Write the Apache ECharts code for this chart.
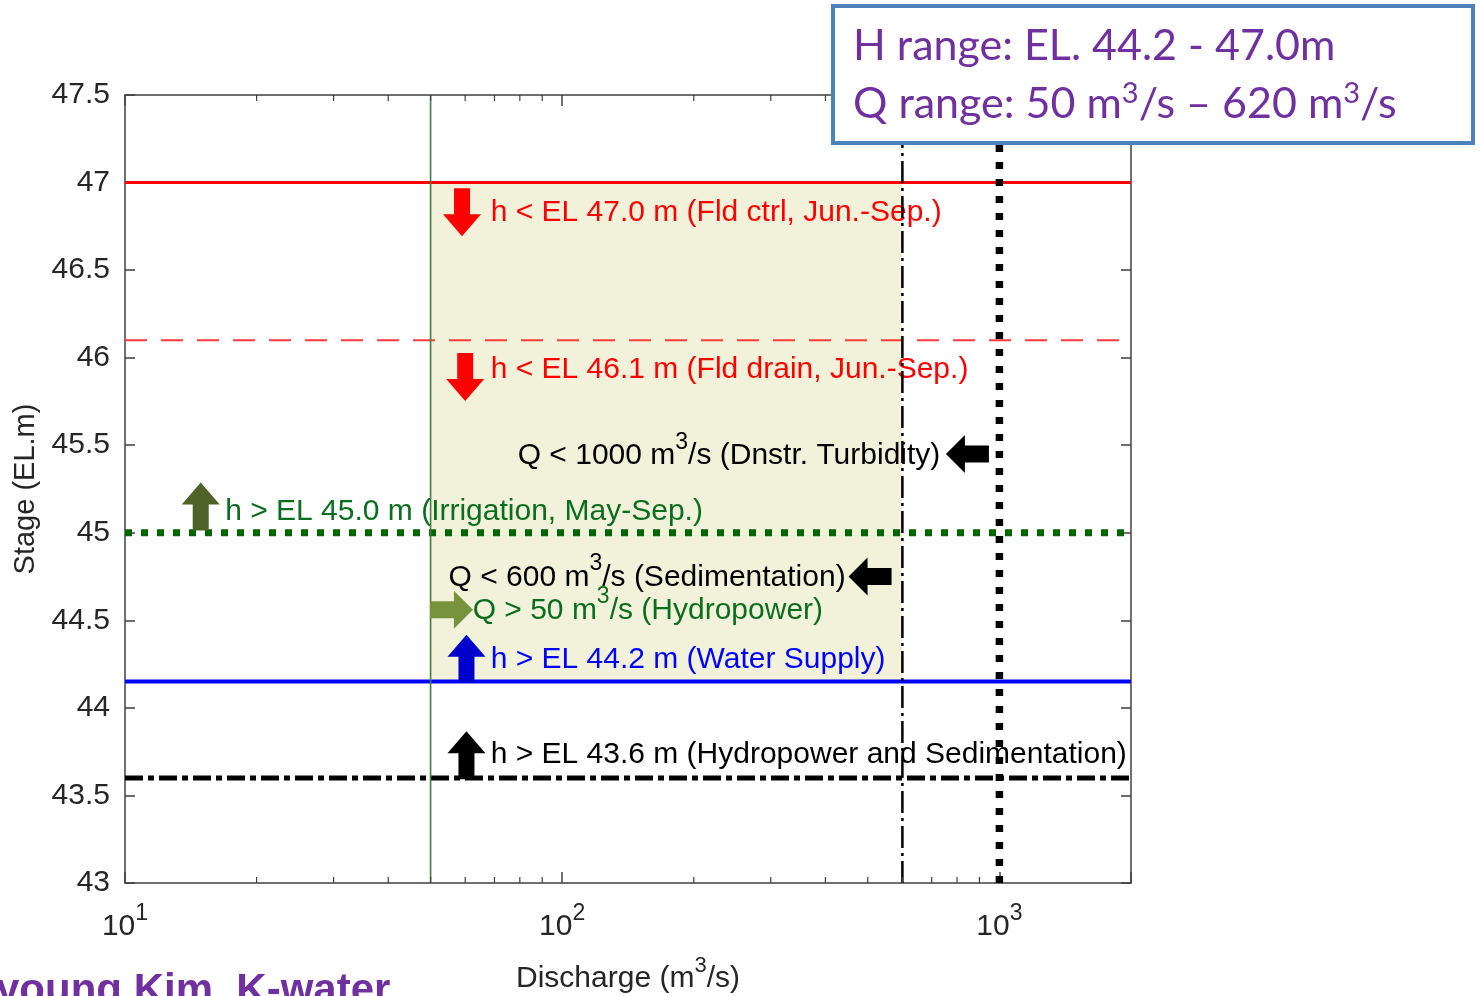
<!DOCTYPE html>
<html><head><meta charset="utf-8">
<script src="https://cdn.jsdelivr.net/npm/echarts@6/dist/echarts.min.js"></script>
<style>html,body{margin:0;padding:0;background:#fff}#c{width:1480px;height:996px}</style>
</head><body><div id="c"></div>
<script>
// ---------------- DATA ----------------
const xMin = 10, xMax = 2000;
const yMin = 43, yMax = 47.5, yStep = 0.5;
const hLevels = [47.0, 46.1, 45.0, 44.15, 43.6];      // horizontal constraint lines
const qLevels = [50, 600, 1000];                      // vertical constraint lines
const shadeQ = [50, 600];
const shadeH = [44.15, 47.0];
const minorTickQ = [20, 30, 40, 50, 60, 70, 80, 90, 200, 300, 400, 500, 600, 700, 800, 900];
const arrowQ = [59, 60, 845, 14.9, 506, 55.8, 60.4, 60.4];
const arrowH = [46.83, 45.89, 45.45, 45.15, 44.75, 44.56, 44.28, 43.73];
const arrowDir = ['down', 'down', 'left', 'up', 'left', 'right', 'up', 'up'];
const labelQ = [68.6, 68.6, 79.1, 16.95, 54.95, 62.4, 68.6, 68.6];
const labelH = [46.826, 45.929, 45.44, 45.123, 44.746, 44.557, 44.277, 43.734];
const labelText = [
  'h < EL 47.0 m (Fld ctrl, Jun.-Sep.)',
  'h < EL 46.1 m (Fld drain, Jun.-Sep.)',
  'Q < 1000 m{s|3}/s (Dnstr. Turbidity)',
  'h > EL 45.0 m (Irrigation, May-Sep.)',
  'Q < 600 m{s|3}/s (Sedimentation)',
  'Q > 50 m{s|3}/s (Hydropower)',
  'h > EL 44.2 m (Water Supply)',
  'h > EL 43.6 m (Hydropower and Sedimentation)'
];
const boxLines = ['H range: EL. 44.2 - 47.0m', 'Q range: 50 m{s|3}/s \u2013 620 m{s|3}/s'];
const footText = 'young Kim, K-water';

// ---------------- STYLES ----------------
const FONT = '"Liberation Sans", Arial, sans-serif';
const hStyles = [
  {color: '#ff0000', width: 3, type: 'solid'},
  {color: '#ff3b3b', width: 2, type: [22, 14]},
  {color: '#006400', width: 7, type: [7, 9]},
  {color: '#0000ff', width: 4, type: 'solid'},
  {color: '#000000', width: 5, type: [18, 5, 6, 5]}
];
const qStyles = [
  {color: '#3f7f3f', width: 1.6, type: 'solid'},
  {color: '#000000', width: 2.5, type: [22, 5, 3, 5]},
  {color: '#000000', width: 7.5, type: [7, 10]}
];
const arrowColors = ['#ff0000', '#ff0000', '#000000', '#4f6228', '#000000', '#77933c', '#0000cc', '#000000'];
const labelColors = ['#ff0000', '#ff0000', '#000000', '#0a6e1e', '#000000', '#0a6e1e', '#0000ff', '#000000'];

// ---------------- CHART ----------------
const chart = echarts.init(document.getElementById('c'), null, {renderer: 'canvas'});

const series = [];
// shaded feasible region
series.push({
  type: 'custom', coordinateSystem: 'cartesian2d', silent: true, z: 1,
  data: [[shadeQ[0], shadeH[0], shadeQ[1], shadeH[1]]],
  encode: {x: [0, 2], y: [1, 3]},
  renderItem: function (params, api) {
    const a = api.coord([api.value(0), api.value(3)]);
    const b = api.coord([api.value(2), api.value(1)]);
    return {type: 'rect', shape: {x: a[0], y: a[1], width: b[0] - a[0], height: b[1] - a[1]},
      style: {fill: '#f2f2da'}};
  }
});
// text annotations
series.push({
  type: 'custom', coordinateSystem: 'cartesian2d', silent: true, z: 3,
  data: labelQ.map((q, i) => [q, labelH[i], i]),
  renderItem: function (params, api) {
    const i = api.value(2);
    const p = api.coord([api.value(0), api.value(1)]);
    return {type: 'text', x: p[0], y: p[1], style: {
      text: labelText[i], fill: labelColors[i], fontSize: 30, fontFamily: FONT,
      lineHeight: 50, align: 'left', verticalAlign: 'middle',
      rich: {s: {fontSize: 23, fontFamily: FONT, fill: labelColors[i], verticalAlign: 'top', lineHeight: 23}}
    }};
  }
});
// horizontal lines
hLevels.forEach((h, i) => series.push({
  type: 'line', silent: true, symbol: 'none', z: 4, animation: false,
  data: [[xMin, h], [xMax, h]],
  lineStyle: {color: hStyles[i].color, width: hStyles[i].width, type: hStyles[i].type, cap: 'butt'}
}));
// vertical lines
qLevels.forEach((q, i) => series.push({
  type: 'line', silent: true, symbol: 'none', z: 4, animation: false,
  data: [[q, yMin], [q, yMax]],
  lineStyle: {color: qStyles[i].color, width: qStyles[i].width, type: qStyles[i].type, cap: 'butt'}
}));
// arrows
const DIRS = {down: [0, 1], up: [0, -1], left: [-1, 0], right: [1, 0]};
series.push({
  type: 'custom', coordinateSystem: 'cartesian2d', silent: true, z: 6,
  data: arrowQ.map((q, i) => [q, arrowH[i], i]),
  renderItem: function (params, api) {
    const i = api.value(2);
    const c = api.coord([api.value(0), api.value(1)]);
    const d = DIRS[arrowDir[i]];
    const horiz = d[1] === 0;
    const L = horiz ? 43 : 48, W = 38, s = horiz ? 17 : 16, hl = horiz ? 19 : 22;
    const local = [[-L / 2, -s / 2], [L / 2 - hl, -s / 2], [L / 2 - hl, -W / 2], [L / 2, 0],
                   [L / 2 - hl, W / 2], [L / 2 - hl, s / 2], [-L / 2, s / 2]];
    const v = [-d[1], d[0]];
    const pts = local.map(p => [c[0] + p[0] * d[0] + p[1] * v[0], c[1] + p[0] * d[1] + p[1] * v[1]]);
    return {type: 'polygon', shape: {points: pts}, style: {fill: arrowColors[i]}};
  }
});
// minor ticks on log axis (bottom and top)
series.push({
  type: 'custom', coordinateSystem: 'cartesian2d', silent: true, z: 7,
  data: minorTickQ.map(q => [q, yMin]),
  renderItem: function (params, api) {
    const p = api.coord([api.value(0), yMin]);
    const cs = params.coordSys;
    const st = {stroke: '#404040', lineWidth: 1.2};
    return {type: 'group', children: [
      {type: 'line', shape: {x1: p[0], y1: cs.y + cs.height, x2: p[0], y2: cs.y + cs.height - 6}, style: st},
      {type: 'line', shape: {x1: p[0], y1: cs.y, x2: p[0], y2: cs.y + 6}, style: st}
    ]};
  }
});

const axisCol = '#404040';
const labelCol = '#262626';
function powLabel(v) {
  const e = Math.round(Math.log10(v));
  if (Math.abs(Math.pow(10, e) - v) > 1e-6 * v) return '';
  return '{b|10}{s|' + e + '}';
}

const option = {
  animation: false,
  backgroundColor: '#ffffff',
  grid: {left: 125, right: 349, top: 95, bottom: 113, containLabel: false, outerBoundsMode: 'none'},
  xAxis: [{
    type: 'log', logBase: 10, min: xMin, max: xMax, position: 'bottom',
    axisLine: {show: true, lineStyle: {color: axisCol, width: 1.5}},
    axisTick: {show: true, inside: true, length: 11, lineStyle: {color: axisCol, width: 1.5}},
    splitLine: {show: false}, minorTick: {show: false},
    axisLabel: {show: true, margin: 19, formatter: powLabel, color: labelCol,
      rich: {b: {fontSize: 30, fontFamily: FONT, color: labelCol, lineHeight: 50},
             s: {fontSize: 23, fontFamily: FONT, color: labelCol, verticalAlign: 'top', lineHeight: 23}}},
    name: 'Discharge (m{s|3}/s)', nameLocation: 'middle', nameGap: 72,
    nameTextStyle: {fontSize: 30, fontFamily: FONT, color: labelCol, lineHeight: 48,
      rich: {s: {fontSize: 22, fontFamily: FONT, color: labelCol, verticalAlign: 'top', lineHeight: 22}}}
  }, {
    type: 'log', logBase: 10, min: xMin, max: xMax, position: 'top',
    axisLine: {show: true, lineStyle: {color: axisCol, width: 1.5}},
    axisTick: {show: true, inside: true, length: 11, lineStyle: {color: axisCol, width: 1.5}},
    axisLabel: {show: false}, splitLine: {show: false}
  }],
  yAxis: [{
    type: 'value', min: yMin, max: yMax, interval: yStep, position: 'left',
    axisLine: {show: true, lineStyle: {color: axisCol, width: 1.5}},
    axisTick: {show: true, inside: true, length: 10, lineStyle: {color: axisCol, width: 1.5}},
    splitLine: {show: false},
    axisLabel: {show: true, margin: 15, fontSize: 30, fontFamily: FONT, color: labelCol},
    name: 'Stage (EL.m)', nameLocation: 'middle', nameGap: 80, nameRotate: 90,
    nameTextStyle: {fontSize: 29, fontFamily: FONT, color: labelCol}
  }, {
    type: 'value', min: yMin, max: yMax, interval: yStep, position: 'right',
    axisLine: {show: true, lineStyle: {color: axisCol, width: 1.5}},
    axisTick: {show: true, inside: true, length: 10, lineStyle: {color: axisCol, width: 1.5}},
    axisLabel: {show: false}, splitLine: {show: false}
  }],
  series: series,
  graphic: [
    {type: 'rect', z: 100, shape: {x: 833, y: 6, width: 640, height: 137},
      style: {fill: '#ffffff', stroke: '#4f81bd', lineWidth: 4}},
    {type: 'text', z: 101, x: 853, y: 46, style: {text: boxLines[0], fill: '#7030a0',
      fontSize: 43, fontFamily: 'Lato, "Open Sans", sans-serif', verticalAlign: 'middle', align: 'left'}},
    {type: 'text', z: 101, x: 853, y: 104, style: {text: boxLines[1], fill: '#7030a0',
      fontSize: 43, fontFamily: 'Lato, "Open Sans", sans-serif', verticalAlign: 'middle', align: 'left',
      lineHeight: 50,
      rich: {s: {fontSize: 29, fontFamily: 'Lato, sans-serif', fill: '#7030a0', verticalAlign: 'top', lineHeight: 29}}}},
    {type: 'text', z: 101, x: -4, y: 970, style: {text: footText, fill: '#7030a0',
      fontSize: 42, fontWeight: 'bold', fontFamily: FONT, verticalAlign: 'top', align: 'left'}}
  ]
};
chart.setOption(option);
</script>
</body></html>
